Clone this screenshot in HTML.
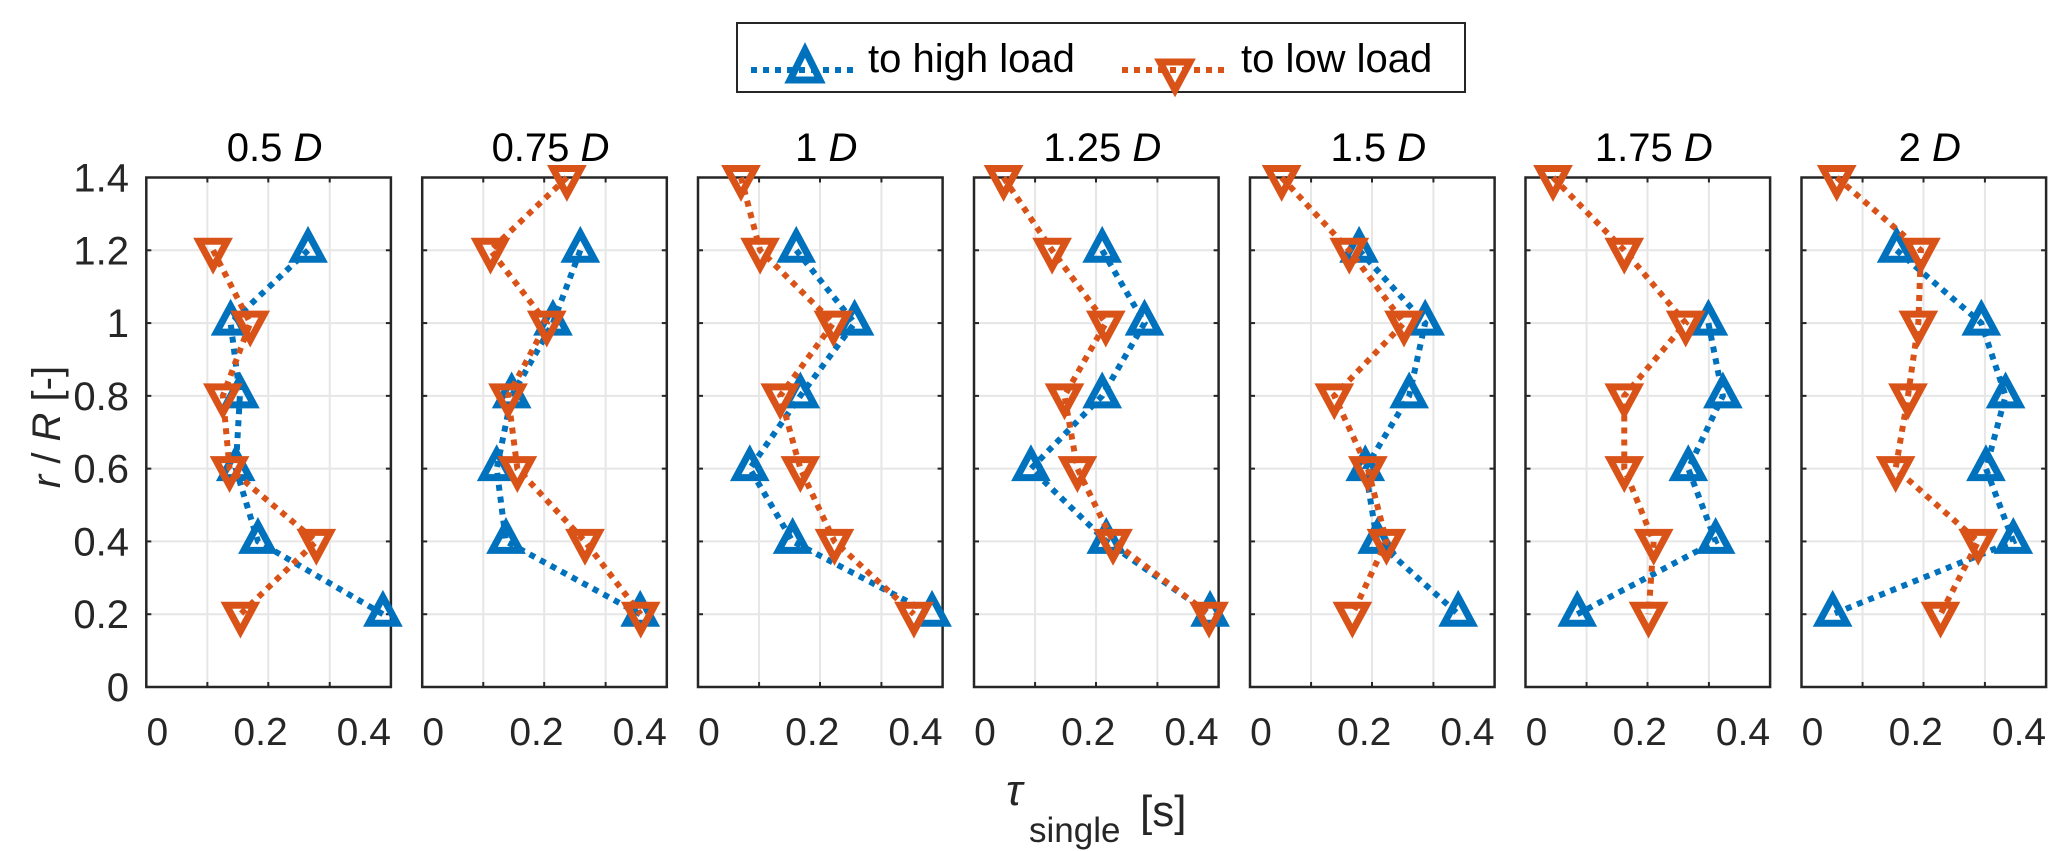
<!DOCTYPE html>
<html><head><meta charset="utf-8">
<style>
html,body{margin:0;padding:0;background:#fff;}
svg{display:block;font-family:"Liberation Sans",Arial,sans-serif;}
</style></head>
<body>
<svg id="chart" width="2067" height="851" viewBox="0 0 2067 851" xmlns="http://www.w3.org/2000/svg">
  <g id="legend">
    <rect x="737" y="23" width="728" height="69" fill="#fff" stroke="#262626" stroke-width="2"/>
    <g>
      <line x1="751" y1="70" x2="857" y2="70" stroke="#0072BD" stroke-width="6" stroke-dasharray="6 6"/>
      <polygon points="805,50 820,80 790,80" fill="none" stroke="#0072BD" stroke-width="7"/>
      <text x="868" y="72" font-size="40" fill="#000">to high load</text>
    </g>
    <g>
      <line x1="1122" y1="70" x2="1228" y2="70" stroke="#D95319" stroke-width="6" stroke-dasharray="6 6"/>
      <polygon points="1175,90 1190,62 1160,62" fill="none" stroke="#D95319" stroke-width="7"/>
      <text x="1241" y="72" font-size="40" fill="#000">to low load</text>
    </g>
  </g>
  <text x="0" y="0" transform="translate(60,427) rotate(-90)" text-anchor="middle" font-size="40" fill="#262626"><tspan font-style="italic">r</tspan> / <tspan font-style="italic">R</tspan> [-]</text>
  <g>
    <text x="1006" y="805" font-size="44" font-style="italic" fill="#262626">τ</text>
    <text x="1029" y="842" font-size="35" fill="#262626">single</text>
    <text x="1140" y="826" font-size="44" fill="#262626">[s]</text>
  </g>
  <g id="panels"></g>
</svg>
<script>
const panelTitles = ["0.5", "0.75", "1", "1.25", "1.5", "1.75", "2"];
const yTicks = [0, 0.2, 0.4, 0.6, 0.8, 1, 1.2, 1.4];
const xTickLabels = [0, 0.2, 0.4];
const highY = [1.2, 1.0, 0.8, 0.6, 0.4, 0.2];
const lowY = [1.4, 1.2, 1.0, 0.8, 0.6, 0.4, 0.2];
const highX = [
  [0.292, 0.142, 0.160, 0.152, 0.195, 0.437],
  [0.285, 0.232, 0.152, 0.123, 0.141, 0.401],
  [0.169, 0.282, 0.177, 0.079, 0.162, 0.432],
  [0.227, 0.309, 0.227, 0.089, 0.235, 0.436],
  [0.190, 0.318, 0.287, 0.202, 0.225, 0.382],
  [null, 0.333, 0.361, 0.294, 0.347, 0.079],
  [0.163, 0.327, 0.374, 0.336, 0.389, 0.039]
];
const lowX = [
  [null, 0.108, 0.180, 0.127, 0.140, 0.308, 0.161],
  [0.259, 0.111, 0.220, 0.145, 0.163, 0.294, 0.402],
  [0.062, 0.099, 0.241, 0.138, 0.177, 0.243, 0.397],
  [0.036, 0.130, 0.234, 0.154, 0.179, 0.248, 0.434],
  [0.040, 0.171, 0.277, 0.142, 0.207, 0.243, 0.177],
  [0.032, 0.170, 0.289, 0.170, 0.170, 0.227, 0.217],
  [0.047, 0.210, 0.205, 0.185, 0.161, 0.321, 0.248]
];
const xGrid = [0.097, 0.215, 0.334];

const NS = "http://www.w3.org/2000/svg";
const BLUE = "#0072BD", ORANGE = "#D95319", AX = "#262626";
const P_TOP = 177.5, P_BOT = 687, P_W = 244.6;
const X_MIN = -0.0213, X_MAX = 0.4525, Y_MIN = 0, Y_MAX = 1.4;
const lefts = [146.3, 422.2, 698, 974, 1250, 1525.5, 1801.5];
function mk(tag, attrs, parent) {
  const e = document.createElementNS(NS, tag);
  for (const k in attrs) e.setAttribute(k, attrs[k]);
  parent.appendChild(e);
  return e;
}
function yS(v) { return P_BOT - (v - Y_MIN) / (Y_MAX - Y_MIN) * (P_BOT - P_TOP); }
const root = document.getElementById("panels");
panelTitles.forEach((t, i) => {
  const L = lefts[i];
  const xS = v => L + (v - X_MIN) / (X_MAX - X_MIN) * P_W;
  const g = mk("g", {}, root);
  
  
  yTicks.forEach(v => {
    if (v === 0 || v === 1.4) return;
    const ln = mk("line", {x1: L, x2: L + P_W, y1: yS(v), y2: yS(v), stroke: "#e6e6e6", "stroke-width": 2}, g);
    
    
    mk("line", {x1: L, x2: L + 5, y1: yS(v), y2: yS(v), stroke: AX, "stroke-width": 2}, g);
    mk("line", {x1: L + P_W - 5, x2: L + P_W, y1: yS(v), y2: yS(v), stroke: AX, "stroke-width": 2}, g);
  });
  xGrid.forEach(v => {
    const ln = mk("line", {x1: xS(v), x2: xS(v), y1: P_TOP, y2: P_BOT, stroke: "#e6e6e6", "stroke-width": 2}, g);
    
    
    mk("line", {x1: xS(v), x2: xS(v), y1: P_TOP, y2: P_TOP + 5, stroke: AX, "stroke-width": 2}, g);
    mk("line", {x1: xS(v), x2: xS(v), y1: P_BOT - 5, y2: P_BOT, stroke: AX, "stroke-width": 2}, g);
  });
  const box = mk("rect", {x: L, y: P_TOP, width: P_W, height: P_BOT - P_TOP, fill: "none", stroke: AX, "stroke-width": 2.5}, g);
  
  
  const tt = mk("text", {x: L + P_W / 2 + 6, y: 161, "text-anchor": "middle", "font-size": 40, fill: "#000"}, g);
  tt.innerHTML = t + ' <tspan font-style="italic">D</tspan>';
  
  
  xTickLabels.forEach(v => {
    const tx = mk("text", {x: xS(v), y: 745, "text-anchor": "middle", "font-size": 39, fill: AX}, g);
    tx.textContent = String(v);
    
    
  });
  if (i === 0) {
    yTicks.forEach(v => {
      const ty = mk("text", {x: 129, y: yS(v) + 14, "text-anchor": "end", "font-size": 40, fill: AX}, g);
      ty.textContent = String(v);
      
      
    });
  }
  function series(xs, ys, color, up, name) {
    const sg = mk("g", {}, g);
    
    
    const pts = [];
    xs.forEach((v, k) => { if (v !== null) pts.push([xS(v), yS(ys[k])]); });
    const pl = mk("polyline", {points: pts.map(p => p.join(",")).join(" "), fill: "none", stroke: color, "stroke-width": 6, "stroke-dasharray": "6 6"}, sg);
    
    
    pts.forEach(p => {
      const [x, y] = p;
      const d = up ? `${x},${y - 17} ${x + 14},${y + 9} ${x - 14},${y + 9}` : `${x},${y + 17} ${x + 14},${y - 9} ${x - 14},${y - 9}`;
      const m = mk("polygon", {points: d, fill: "none", stroke: color, "stroke-width": 7, "stroke-linejoin": "miter"}, sg);
      
      
    });
  }
  series(highX[i], highY, BLUE, true, 'to-high-load-series');
  series(lowX[i], lowY, ORANGE, false, 'to-low-load-series');
});
</script>
</body></html>
